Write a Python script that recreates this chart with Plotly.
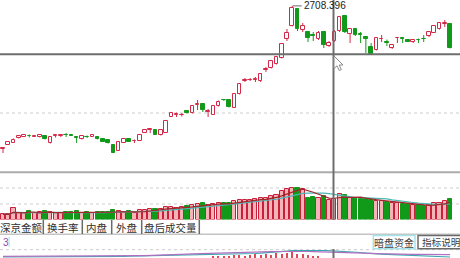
import numpy as np
import pandas as pd
import plotly.graph_objects as go

# ---------------- data ----------------
opens = [2423, 2431, 2435, 2444, 2447, 2449, 2447, 2446, 2448, 2434,
         2449, 2449, 2451, 2450, 2447, 2442, 2447, 2447, 2446, 2442,
         2440, 2430, 2419, 2435, 2443, 2438, 2439, 2455, 2460, 2460,
         2450, 2455, 2487, 2491, 2490, 2498, 2494, 2510, 2512, 2496,
         2491, 2508, 2521, 2520, 2505, 2532, 2559, 2560, 2561, 2558,
         2581, 2584, 2592, 2604, 2642, 2668, 2702, 2660, 2656, 2650,
         2642, 2656, 2628, 2638, 2658, 2688, 2652, 2662, 2652, 2646,
         2626, 2620, 2642, 2636, 2624, 2644, 2644, 2641, 2636, 2641,
         2643, 2648, 2655, 2662, 2673, 2672]
highs = [2424, 2438, 2443, 2450, 2452, 2451, 2449, 2452, 2449, 2447,
         2450, 2451, 2454, 2451, 2447, 2449, 2449, 2452, 2447, 2443,
         2441, 2431, 2437, 2444, 2444, 2441, 2452, 2462, 2463, 2461,
         2461, 2479, 2495, 2495, 2494, 2499, 2510, 2520, 2513, 2502,
         2509, 2519, 2522, 2521, 2534, 2554, 2564, 2564, 2566, 2574,
         2586, 2600, 2608, 2634, 2662, 2708.396, 2704, 2674, 2658, 2656,
         2658, 2658, 2638, 2660, 2688, 2689, 2664, 2663, 2656, 2648,
         2634, 2646, 2650, 2641, 2632, 2646, 2645, 2642, 2642, 2643,
         2650, 2658, 2670, 2676, 2680, 2674]
lows = [2414, 2430, 2434, 2443, 2446, 2445, 2446, 2445, 2441, 2433,
        2445, 2446, 2446, 2448, 2434, 2441, 2444, 2446, 2441, 2436,
        2433, 2414, 2418, 2434, 2436, 2434, 2438, 2454, 2454, 2450,
        2449, 2454, 2486, 2486, 2487, 2493, 2493, 2500, 2496, 2486,
        2490, 2507, 2518, 2505, 2504, 2531, 2556, 2558, 2556, 2556,
        2576, 2583, 2591, 2603, 2638, 2667, 2658, 2656, 2636, 2638,
        2640, 2624, 2626, 2636, 2656, 2654, 2634, 2648, 2634, 2614,
        2612, 2619, 2636, 2628, 2622, 2634, 2634, 2636, 2634, 2634,
        2636, 2646, 2654, 2661, 2666, 2623]
closes = [2424, 2436, 2441, 2449, 2451, 2448, 2448, 2451, 2442, 2446,
          2450, 2450, 2450, 2449, 2445, 2448, 2446, 2451, 2442, 2437,
          2435, 2415, 2436, 2442, 2437, 2439, 2451, 2461, 2462, 2451,
          2460, 2478, 2494, 2492, 2491, 2494, 2509, 2512, 2500, 2498,
          2508, 2517, 2520, 2506, 2533, 2552, 2560, 2561, 2562, 2572,
          2582, 2598, 2606, 2632, 2654, 2704, 2662, 2668, 2644, 2648,
          2654, 2630, 2634, 2656, 2686, 2656, 2662, 2650, 2650, 2642,
          2612, 2644, 2643, 2634, 2630, 2645, 2643, 2637, 2641, 2640,
          2642, 2656, 2668, 2674, 2674, 2624]
volumes = [500, 500, 1100, 600, 600, 800, 600, 700, 800, 700,
           600, 600, 700, 700, 800, 600, 700, 600, 700, 700,
           700, 900, 800, 700, 800, 600, 900, 900, 1000, 1000,
           1000, 1200, 1200, 1100, 1200, 1300, 1400, 1500, 1600, 1400,
           1500, 1600, 1600, 1600, 1800, 1900, 1900, 1900, 2000, 2100,
           2100, 2300, 2400, 2800, 3000, 3100, 3100, 3000, 2100, 2200,
           2100, 2300, 1900, 2000, 2500, 2400, 2100, 2100, 2000, 2000,
           1900, 1800, 1800, 1700, 1600, 1600, 1500, 1500, 1400, 1400,
           1300, 1400, 1600, 1600, 1800, 2000]
ind_teal = [1.0, 1.0, 1.0, 1.0, 1.0, 1.0, 1.0, 1.0, 1.0, 1.0,
            1.2, 1.2, 1.2, 1.2, 1.2, 1.2, 1.2, 1.2, 1.2, 1.2,
            1.5, 1.5, 1.6, 1.7, 1.8, 1.9, 2.0, 2.1, 2.2, 2.3,
            2.4, 2.5, 2.6, 2.7, 2.8, 2.9, 3.0, 3.0, 3.1, 3.1,
            3.2, 3.2, 3.3, 3.3, 3.4, 3.6, 3.9, 4.2, 4.5, 4.8,
            5.1, 5.5, 5.9, 6.4, 6.9, 7.4, 7.6, 7.7, 7.7, 7.7,
            7.7, 7.6, 7.4, 7.2, 7.0, 6.8, 6.5, 6.0, 5.5, 4.9,
            4.3, 4.0, 3.8, 3.6, 3.4, 3.2, 3.0, 2.8, 2.6, 2.4,
            2.2, 2.0, 1.8, 1.5, 1.2, 1.0]
ind_purple = [1.6, 1.6, 1.6, 1.6, 1.6, 1.7, 1.7, 1.7, 1.7, 1.7,
              1.8, 1.8, 1.8, 1.8, 1.8, 1.8, 1.9, 1.9, 1.9, 1.9,
              2.0, 2.0, 2.1, 2.1, 2.2, 2.2, 2.3, 2.4, 2.5, 2.7,
              2.9, 3.1, 3.3, 3.5, 3.7, 3.9, 4.1, 4.3, 4.5, 4.6,
              4.7, 4.8, 4.9, 5.0, 5.1, 5.3, 5.5, 5.7, 5.9, 6.1,
              6.3, 6.4, 6.5, 6.6, 6.7, 6.7, 6.7, 6.6, 6.5, 6.4,
              6.3, 6.2, 6.0, 5.9, 5.8, 5.6, 5.4, 5.2, 5.0, 4.8,
              4.6, 4.4, 4.2, 4.1, 4.0, 4.0, 3.9, 3.8, 3.7, 3.6,
              3.5, 3.5, 3.4, 3.4, 3.3, 3.3]
ind_bars = [0] * 40 + [1.5, 2.0, 2.5, 2.0, 3.0, 3.5, 2.5, 3.0, 4.0, 3.5,
                       4.5, 3.5, 5.0, 4.0, 5.5, 6.0, 4.5, 4.0, 3.0, 2.5,
                       2.0] + [0] * 25
tab_labels = ["深京金额", "换手率", "内盘", "外盘", "盘后成交量"]
button_labels = ["暗盘资金", "指标说明"]
indicator_tag = "3"
peak_label = "2708.396"

# ---------------- helpers ----------------
W, H = 460, 258
RED = "#d42a4a"
GREEN = "#11991a"


def py(y):
    return 1 - y / H


def pxp(x):
    return x / W


n = len(opens)
idx = np.arange(n)
o = np.array(opens, float)
c = np.array(closes, float)
hi = np.array(highs, float)
lo = np.array(lows, float)
up = c >= o
body_lo = np.minimum(o, c)
body_hi = np.maximum(o, c)
body_h = np.maximum(body_hi - body_lo, 0.6)

fig = go.Figure()


def wick_xy(mask):
    xs, ys = [], []
    for i in idx[mask]:
        xs += [i, i, None, i, i, None]
        ys += [hi[i], body_hi[i], None, body_lo[i], lo[i], None]
    return xs, ys


for mask, col in [(up, RED), (~up, GREEN)]:
    xs, ys = wick_xy(mask)
    fig.add_trace(go.Scatter(x=xs, y=ys, mode="lines",
                             line=dict(color=col, width=1),
                             hoverinfo="skip", showlegend=False,
                             xaxis="x", yaxis="y"))

fig.add_trace(go.Bar(x=idx[up], y=body_h[up], base=body_lo[up], width=0.68,
                     marker=dict(color="white", line=dict(color=RED, width=1)),
                     showlegend=False, xaxis="x", yaxis="y"))
fig.add_trace(go.Bar(x=idx[~up], y=body_h[~up], base=body_lo[~up], width=0.68,
                     marker=dict(color=GREEN, line=dict(color=GREEN, width=1)),
                     showlegend=False, xaxis="x", yaxis="y"))

# volume
vol = np.array(volumes, float)
fig.add_trace(go.Bar(x=idx[up], y=vol[up], width=0.78,
                     marker=dict(color="#f4b4b8", line=dict(color="#c8203a", width=1)),
                     showlegend=False, xaxis="x", yaxis="y2"))
fig.add_trace(go.Bar(x=idx[~up], y=vol[~up], width=0.78,
                     marker=dict(color=GREEN, line=dict(color=GREEN, width=1)),
                     showlegend=False, xaxis="x", yaxis="y2"))
vs = pd.Series(vol)
ma5 = vs.rolling(5, min_periods=1).mean()
ma10 = vs.rolling(10, min_periods=1).mean()
fig.add_trace(go.Scatter(x=idx, y=ma10, mode="lines", line=dict(color="#4cb8b4", width=1.2),
                         showlegend=False, xaxis="x", yaxis="y2"))
fig.add_trace(go.Scatter(x=idx, y=ma5, mode="lines", line=dict(color="#a0282c", width=1.2),
                         showlegend=False, xaxis="x", yaxis="y2"))

# bottom indicator
fig.add_trace(go.Bar(x=idx, y=ind_bars, width=0.25, marker=dict(color="#e04858", line=dict(width=0)),
                     showlegend=False, xaxis="x", yaxis="y3"))
fig.add_trace(go.Scatter(x=idx, y=ind_teal, mode="lines", line=dict(color="#3aa8b0", width=1.2),
                         showlegend=False, xaxis="x", yaxis="y3"))
fig.add_trace(go.Scatter(x=idx, y=ind_purple, mode="lines", line=dict(color="#b070c0", width=1.2),
                         showlegend=False, xaxis="x", yaxis="y3"))

shapes = []
# dotted grid lines
for yy in [113, 188, 204, 249.7]:
    shapes.append(dict(type="line", xref="paper", yref="paper", x0=0, x1=1, y0=py(yy), y1=py(yy),
                       line=dict(color="#cccccc", width=1, dash="dot"), layer="below"))
# separator below price panel
shapes.append(dict(type="line", xref="paper", yref="paper", x0=0, x1=1, y0=py(172.3), y1=py(172.3),
                   line=dict(color="#ababab", width=2)))
# line under tabs
shapes.append(dict(type="line", xref="paper", yref="paper", x0=0, x1=1, y0=py(234.3), y1=py(234.3),
                   line=dict(color="#c4c4c4", width=1.5)))
# crosshair
shapes.append(dict(type="line", xref="paper", yref="paper", x0=0, x1=1, y0=py(54.3), y1=py(54.3),
                   line=dict(color="#6e6e6e", width=2)))
for y0, y1 in [(0, 220), (249, 258)]:
    shapes.append(dict(type="line", xref="paper", yref="paper", x0=pxp(333.5), x1=pxp(333.5),
                       y0=py(y0), y1=py(y1), line=dict(color="#6e6e6e", width=2)))
# tab dividers
tab_edges = [0, 43.3, 82.3, 111.7, 141.7, 199.3]
for xe in tab_edges[1:]:
    shapes.append(dict(type="line", xref="paper", yref="paper", x0=pxp(xe), x1=pxp(xe),
                       y0=py(220), y1=py(234), line=dict(color="#6a6a6a", width=1.5)))
# buttons
shapes.append(dict(type="rect", xref="paper", yref="paper", x0=pxp(373.3), x1=pxp(415),
                   y0=py(248.7), y1=py(235.5), line=dict(color="#a6e2ea", width=1.5), fillcolor="white"))
shapes.append(dict(type="rect", xref="paper", yref="paper", x0=pxp(418), x1=pxp(463),
                   y0=py(248.7), y1=py(235.5), line=dict(color="#6a6a6a", width=1.5), fillcolor="white"))
# little cyan caret next to "3"
shapes.append(dict(type="rect", xref="paper", yref="paper", x0=pxp(8.3), x1=pxp(10),
                   y0=py(247), y1=py(237), line=dict(width=0), fillcolor="#bdf2f8"))
# peak leader line
peak_i = int(np.argmax(hi))
shapes.append(dict(type="line", xref="x", yref="y", x0=peak_i + 0.1, x1=peak_i + 1.8,
                   y0=hi[peak_i], y1=hi[peak_i], line=dict(color="#9a9a9a", width=1.5)))
# mouse cursor
cur = [(334, 56), (334, 68.5), (337, 65.8), (339.3, 70.5), (341.3, 69.6), (339.2, 65), (343, 65)]
path = "M " + " L ".join(f"{pxp(x):.5f},{py(y):.5f}" for x, y in cur) + " Z"
shapes.append(dict(type="path", xref="paper", yref="paper", path=path,
                   fillcolor="white", line=dict(color="#8a8a8a", width=1)))

annotations = []
FONT = "Noto Sans CJK SC, Noto Sans, sans-serif"
for lab, a, b in zip(tab_labels, tab_edges[:-1], tab_edges[1:]):
    annotations.append(dict(text=lab, xref="paper", yref="paper", x=pxp((a + b) / 2), y=py(227.3),
                            xanchor="center", yanchor="middle", showarrow=False,
                            font=dict(family=FONT, size=10.5, color="#303030")))
annotations.append(dict(text=button_labels[0], xref="paper", yref="paper", x=pxp(394.2), y=py(242.2),
                        xanchor="center", yanchor="middle", showarrow=False,
                        font=dict(family=FONT, size=10, color="#404040")))
annotations.append(dict(text=button_labels[1], xref="paper", yref="paper", x=pxp(419.5), y=py(242.2),
                        xanchor="left", yanchor="middle", showarrow=False,
                        font=dict(family=FONT, size=9.6, color="#404040")))
annotations.append(dict(text=indicator_tag, xref="paper", yref="paper", x=pxp(0.5), y=py(242.5),
                        xanchor="left", yanchor="middle", showarrow=False,
                        font=dict(family="Liberation Sans, Arial", size=10, color="#a040b0")))
annotations.append(dict(text=peak_label, xref="x", yref="y", x=peak_i + 1.85, y=hi[peak_i],
                        xanchor="left", yanchor="middle", showarrow=False,
                        font=dict(family="Liberation Sans, Arial", size=10, color="#222222")))

fig.update_layout(
    width=W, height=H, margin=dict(l=0, r=0, t=0, b=0),
    paper_bgcolor="white", plot_bgcolor="white",
    barmode="overlay", bargap=0, showlegend=False,
    xaxis=dict(range=[-0.57, 86.9], visible=False, fixedrange=True),
    yaxis=dict(domain=[py(171), 1], range=[2378, 2720], visible=False),
    yaxis2=dict(domain=[py(219.5), py(174)], range=[0, 4500], visible=False),
    yaxis3=dict(domain=[0, py(250)], range=[0, 8], visible=False),
    shapes=shapes, annotations=annotations,
)

fig.write_html("out.html")
